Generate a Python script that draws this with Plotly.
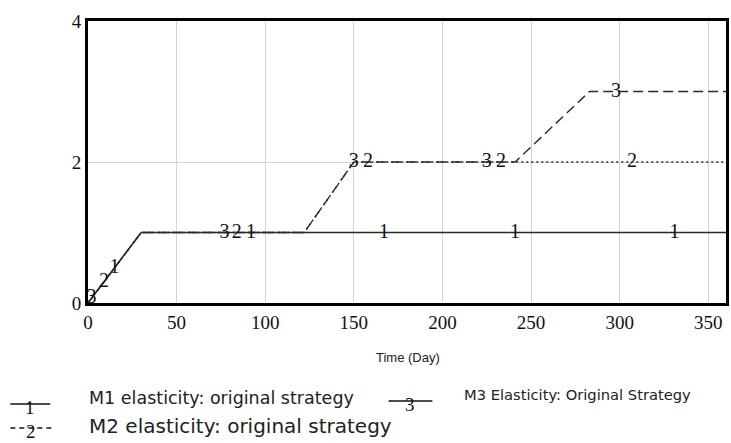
import numpy as np
import plotly.graph_objects as go

# ---- data ----
t_m1 = [0, 30, 360]
v_m1 = [0, 1, 1]
t_m2 = [0, 30, 122, 150, 360]
v_m2 = [0, 1, 1, 2, 2]
t_m3 = [0, 30, 122, 150, 241, 283, 360]
v_m3 = [0, 1, 1, 2, 2, 3, 3]

# positions (time) of the series number labels along each line
lbl_t_m1 = [15, 92, 167, 241, 331]
lbl_t_m2 = [9, 84, 158, 233, 307]
lbl_t_m3 = [2, 77, 150, 225, 298]

x_ticks = [0, 50, 100, 150, 200, 250, 300, 350]
y_ticks = [0, 2, 4]

names = ["M1 elasticity: original strategy",
         "M2 elasticity: original strategy",
         "M3 Elasticity: Original Strategy"]

W, H = 731, 443
L, R, T, B = 88, 729, 21, 303  # plot area in pixels

def px(x):
    return (x - L) / (R - L)

def py(y):
    return (B - y) / (B - T)

LINE = "#2a2a2a"
SERIF = "Times New Roman"
SANS = "DejaVu Sans"

fig = go.Figure()
fig.add_trace(go.Scatter(x=t_m3, y=v_m3, mode="lines",
                         line=dict(color=LINE, width=1.4, dash="10px,5px"), hoverinfo="skip"))
fig.add_trace(go.Scatter(x=t_m2, y=v_m2, mode="lines",
                         line=dict(color=LINE, width=1.4, dash="2px,3px"), hoverinfo="skip"))
fig.add_trace(go.Scatter(x=t_m1, y=v_m1, mode="lines",
                         line=dict(color=LINE, width=1.6), hoverinfo="skip"))

for lt, tt, vv, lab in [(lbl_t_m1, t_m1, v_m1, "1"),
                        (lbl_t_m2, t_m2, v_m2, "2"),
                        (lbl_t_m3, t_m3, v_m3, "3")]:
    ys = list(np.interp(lt, tt, vv))
    fig.add_trace(go.Scatter(x=lt, y=ys, mode="text", text=[lab] * len(lt),
                             textposition="middle center",
                             textfont=dict(family=SERIF, size=20, color="#111"),
                             hoverinfo="skip"))

shapes = []
annots = []

# x axis title
annots.append(dict(x=px(410), y=py(357), xref="paper", yref="paper", text="Time (Day)",
                   showarrow=False, font=dict(family="Liberation Sans", size=13, color="#222"),
                   xanchor="center", yanchor="middle"))

def legend_sample(x0, x1, y, lab, dash):
    shapes.append(dict(type="line", xref="paper", yref="paper",
                       x0=px(x0), x1=px(x1), y0=py(y), y1=py(y),
                       line=dict(color="#111", width=1.6, dash=dash)))
    annots.append(dict(x=px((x0 + x1) / 2), y=py(y + 3), xref="paper", yref="paper",
                       text=lab, showarrow=False,
                       font=dict(family=SERIF, size=19, color="#111"),
                       xanchor="center", yanchor="middle"))

legend_sample(10, 50, 404, "1", "solid")
legend_sample(390, 434, 401, "3", "solid")
legend_sample(10, 52, 428, "2", "5px,4px")

annots.append(dict(x=px(87), y=py(398), xref="paper", yref="paper", text=names[0],
                   showarrow=False, font=dict(family=SANS, size=17.5, color="#222"),
                   xanchor="left", yanchor="middle"))
annots.append(dict(x=px(87), y=py(426), xref="paper", yref="paper", text=names[1],
                   showarrow=False, font=dict(family=SANS, size=20, color="#222"),
                   xanchor="left", yanchor="middle"))
annots.append(dict(x=px(464), y=py(394), xref="paper", yref="paper", text=names[2],
                   showarrow=False, font=dict(family=SANS, size=14.7, color="#222"),
                   xanchor="left", yanchor="middle"))

fig.update_layout(
    width=W, height=H,
    margin=dict(l=L, r=W - R, t=T, b=H - B),
    paper_bgcolor="white", plot_bgcolor="white",
    showlegend=False,
    shapes=shapes, annotations=annots,
    xaxis=dict(range=[0, 360], tickvals=x_ticks, ticktext=[str(v) for v in x_ticks],
               showgrid=True, gridcolor="#d4d4d4", gridwidth=1,
               showline=True, linecolor="black", linewidth=3, mirror=True,
               ticks="", zeroline=False,
               tickfont=dict(family=SERIF, size=19, color="#111")),
    yaxis=dict(range=[0, 4], tickvals=y_ticks, ticktext=[str(v) for v in y_ticks],
               showgrid=True, gridcolor="#d4d4d4", gridwidth=1,
               showline=True, linecolor="black", linewidth=3, mirror=True,
               ticks="", zeroline=False,
               tickfont=dict(family=SERIF, size=19, color="#111")),
)

fig.write_html("out.html")
